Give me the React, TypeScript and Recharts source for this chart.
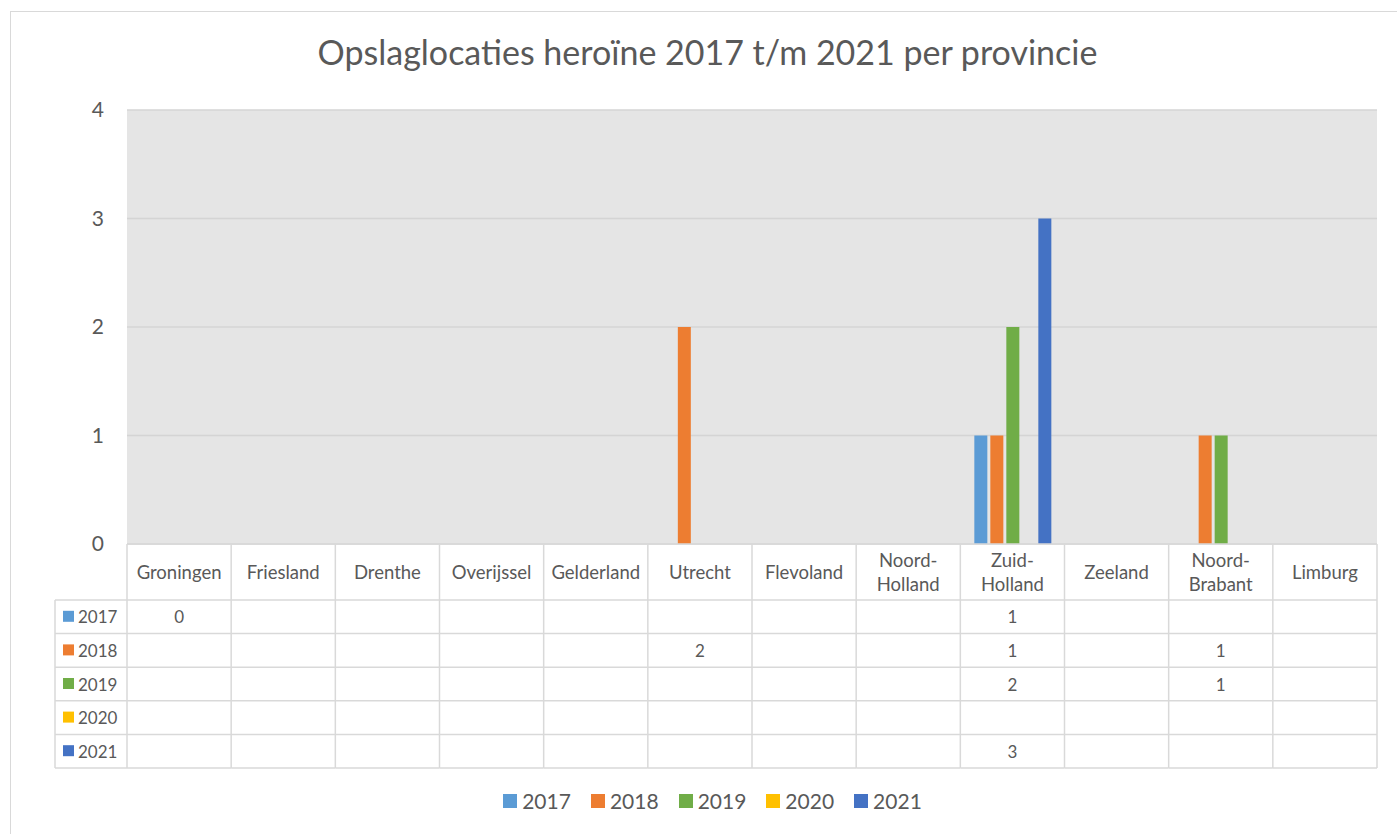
import { BarChart, Bar, XAxis, YAxis, CartesianGrid, Legend } from 'recharts';

const categories = [
  'Groningen', 'Friesland', 'Drenthe', 'Overijssel', 'Gelderland', 'Utrecht',
  'Flevoland', 'Noord-Holland', 'Zuid-Holland', 'Zeeland', 'Noord-Brabant', 'Limburg'
];
const years = ['2017', '2018', '2019', '2020', '2021'];
const yearColors = ['#5b9bd5', '#ed7d31', '#70ad47', '#ffc000', '#4472c4'];

// empty cells in the data table are null
const v2017 = [0, null, null, null, null, null, null, null, 1, null, null, null];
const v2018 = [null, null, null, null, null, 2, null, null, 1, null, 1, null];
const v2019 = [null, null, null, null, null, null, null, null, 2, null, 1, null];
const v2020 = [null, null, null, null, null, null, null, null, null, null, null, null];
const v2021 = [null, null, null, null, null, null, null, null, 3, null, null, null];
const yTicks = [0, 1, 2, 3, 4];

const seriesValues = [v2017, v2018, v2019, v2020, v2021];

const data = categories.map((name, i) => {
  const row: any = { name };
  years.forEach((yr, s) => { row['y' + yr] = seriesValues[s][i]; });
  return row;
});

const W = 1397;
const H = 834;
const MARGIN = { top: 110, right: 20, bottom: 66, left: 0 };
const Y_AXIS_W = 127;
const X_AXIS_H = 224;
const BAND = (W - MARGIN.right - Y_AXIS_W) / categories.length;
const HEADER_H = 56;
const ROW_H = (X_AXIS_H - HEADER_H) / years.length;
const LABEL_COL_W = 72;

const LINE = '#d9d9d9';
const TEXT = '#595959';
const FONT = 'Lato, "Open Sans", sans-serif';

function TableTick(props: any) {
  const { x, y, payload, index } = props;
  const left = x - BAND / 2;
  const right = x + BAND / 2;
  const i = typeof index === 'number' ? index : payload.index;
  const label: string = String(payload.value);
  const parts = label.includes('-') ? [label.slice(0, label.indexOf('-') + 1), label.slice(label.indexOf('-') + 1)] : [label];

  return (
    <g>
      {/* header label */}
      {parts.map((p, k) => (
        <text
          key={k}
          x={x}
          y={y + HEADER_H / 2 + (parts.length === 2 ? (k === 0 ? -12 : 12) : 0)}
          textAnchor="middle"
          dominantBaseline="central"
          fontSize={18.5}
          fill={TEXT}
        >
          {p}
        </text>
      ))}
      {/* cell borders */}
      <line x1={left} x2={left} y1={y} y2={y + X_AXIS_H} stroke={LINE} strokeWidth={1.5} />
      {i === categories.length - 1 && (
        <line x1={right} x2={right} y1={y} y2={y + X_AXIS_H} stroke={LINE} strokeWidth={1.5} />
      )}
      {years.map((yr, r) => {
        const top = y + HEADER_H + r * ROW_H;
        const v = seriesValues[r][i];
        return (
          <g key={yr}>
            <line x1={left} x2={right} y1={top} y2={top} stroke={LINE} strokeWidth={1.5} />
            {v !== null && (
              <text x={x} y={top + ROW_H / 2} textAnchor="middle" dominantBaseline="central" fontSize={17} fill={TEXT}>
                {v}
              </text>
            )}
          </g>
        );
      })}
      <line x1={left} x2={right} y1={y + X_AXIS_H} y2={y + X_AXIS_H} stroke={LINE} strokeWidth={1.5} />

      {/* series label column, drawn once left of the first column */}
      {i === 0 && (
        <g>
          <line x1={left - LABEL_COL_W} x2={left - LABEL_COL_W} y1={y + HEADER_H} y2={y + X_AXIS_H} stroke={LINE} strokeWidth={1.5} />
          {years.map((yr, r) => {
            const top = y + HEADER_H + r * ROW_H;
            return (
              <g key={yr}>
                <line x1={left - LABEL_COL_W} x2={left} y1={top} y2={top} stroke={LINE} strokeWidth={1.5} />
                <rect x={left - LABEL_COL_W + 8} y={top + ROW_H / 2 - 6} width={11} height={11} fill={yearColors[r]} />
                <text x={left - LABEL_COL_W + 23} y={top + ROW_H / 2} dominantBaseline="central" fontSize={17} fill={TEXT}>
                  {yr}
                </text>
              </g>
            );
          })}
          <line x1={left - LABEL_COL_W} x2={left} y1={y + X_AXIS_H} y2={y + X_AXIS_H} stroke={LINE} strokeWidth={1.5} />
        </g>
      )}
    </g>
  );
}

function LegendContent({ payload }: any) {
  return (
    <div style={{ display: 'flex', justifyContent: 'center', gap: 20, fontSize: 21, color: TEXT, paddingLeft: 28 }}>
      {(payload || []).map((item: any) => (
        <div key={item.value} style={{ display: 'flex', alignItems: 'center', gap: 5 }}>
          <span style={{ width: 14, height: 14, background: item.color, display: 'inline-block' }} />
          <span>{item.value}</span>
        </div>
      ))}
    </div>
  );
}

export default function App() {
  return (
    <div style={{ position: 'absolute', left: 0, top: 0, width: W, height: H, overflow: 'hidden', background: '#fff', fontFamily: FONT }}>
      <div style={{ position: 'absolute', left: 10, top: 11, width: W + 20, height: H + 20, border: `1.5px solid ${LINE}` }} />
      <div style={{ position: 'absolute', left: 10, width: W - 2, top: 31, textAlign: 'center', fontSize: 34, color: TEXT }}>
        Opslaglocaties heroïne 2017 t/m 2021 per provincie
      </div>
      <div style={{ position: 'absolute', left: 0, top: 0 }}>
        <BarChart width={W} height={H} data={data} margin={MARGIN} barSize={13} barGap={3}>
          <CartesianGrid horizontal vertical={false} fill="#e5e5e5" stroke="#d4d4d4" strokeWidth={1.5} />
          <XAxis
            dataKey="name"
            height={X_AXIS_H}
            interval={0}
            tickSize={0}
            tickMargin={0}
            axisLine={{ stroke: LINE, strokeWidth: 1.5 }}
            tickLine={false}
            tick={<TableTick />}
          />
          <YAxis
            width={Y_AXIS_W}
            domain={[0, 4]}
            ticks={yTicks}
            axisLine={false}
            tickLine={false}
            tickSize={0}
            tickMargin={23}
            tick={{ fontSize: 21, fill: TEXT }}
          />
          {years.map((yr, s) => (
            <Bar key={yr} dataKey={'y' + yr} name={yr} fill={yearColors[s]} isAnimationActive={false} />
          ))}
          <Legend
            verticalAlign="middle"
            align="center"
            content={<LegendContent />}
            wrapperStyle={{ top: 788, left: 0, width: W, height: 28 }}
          />
        </BarChart>
      </div>
    </div>
  );
}
